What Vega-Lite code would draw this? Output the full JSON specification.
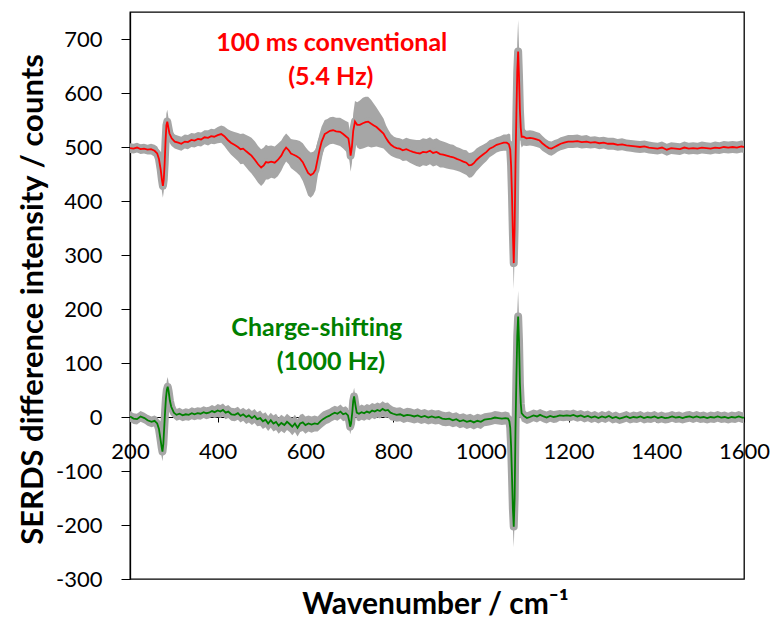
{
"$schema": "https://vega.github.io/schema/vega-lite/v6.json",
"width": 614, "height": 567,
"autosize": {"type": "none"},
"padding": {"left": 130, "top": 12, "right": 31, "bottom": 40},
"background": "white",
"config": {"view": {"stroke": "#000", "strokeWidth": 1.3}, "font": "Lato"},
"datasets": {
"notes": [
{"s": "conv", "x": 660, "y": 692, "t": "100 ms conventional"},
{"s": "conv", "x": 658, "y": 630, "t": "(5.4 Hz)"},
{"s": "cs", "x": 626, "y": 165, "t": "Charge-shifting"},
{"s": "cs", "x": 658, "y": 102, "t": "(1000 Hz)"}
],
"spec": [
{"s":"conv","x":200,"y":498,"e":9},{"s":"conv","x":208,"y":497,"e":9},{"s":"conv","x":216,"y":499,"e":9},{"s":"conv","x":224,"y":496,"e":9},{"s":"conv","x":232,"y":497,"e":9},{"s":"conv","x":240,"y":495,"e":9},{"s":"conv","x":248,"y":496,"e":10},{"s":"conv","x":256,"y":493,"e":11},{"s":"conv","x":262,"y":488,"e":13},{"s":"conv","x":266,"y":478,"e":16},{"s":"conv","x":270,"y":458,"e":20},{"s":"conv","x":273,"y":438,"e":22},{"s":"conv","x":275,"y":428,"e":22},{"s":"conv","x":277,"y":440,"e":22},{"s":"conv","x":279,"y":470,"e":22},{"s":"conv","x":281,"y":510,"e":22},{"s":"conv","x":283,"y":540,"e":22},{"s":"conv","x":285,"y":547,"e":22},{"s":"conv","x":287,"y":538,"e":20},{"s":"conv","x":290,"y":525,"e":17},{"s":"conv","x":295,"y":516,"e":14},{"s":"conv","x":302,"y":510,"e":13},{"s":"conv","x":310,"y":508,"e":13},{"s":"conv","x":317,"y":506,"e":13},{"s":"conv","x":325,"y":510,"e":13},{"s":"conv","x":332,"y":509,"e":13},{"s":"conv","x":340,"y":513,"e":13},{"s":"conv","x":347,"y":512,"e":13},{"s":"conv","x":355,"y":515,"e":13},{"s":"conv","x":362,"y":514,"e":13},{"s":"conv","x":370,"y":518,"e":13},{"s":"conv","x":378,"y":517,"e":14},{"s":"conv","x":385,"y":520,"e":14},{"s":"conv","x":392,"y":519,"e":14},{"s":"conv","x":400,"y":522,"e":15},{"s":"conv","x":408,"y":524,"e":16},{"s":"conv","x":415,"y":520,"e":18},{"s":"conv","x":423,"y":513,"e":20},{"s":"conv","x":430,"y":508,"e":22},{"s":"conv","x":438,"y":504,"e":24},{"s":"conv","x":446,"y":500,"e":26},{"s":"conv","x":452,"y":496,"e":28},{"s":"conv","x":458,"y":497,"e":28},{"s":"conv","x":465,"y":492,"e":30},{"s":"conv","x":471,"y":488,"e":32},{"s":"conv","x":477,"y":484,"e":33},{"s":"conv","x":485,"y":476,"e":34},{"s":"conv","x":492,"y":468,"e":34},{"s":"conv","x":499,"y":462,"e":34},{"s":"conv","x":505,"y":466,"e":33},{"s":"conv","x":510,"y":472,"e":32},{"s":"conv","x":515,"y":471,"e":31},{"s":"conv","x":522,"y":473,"e":30},{"s":"conv","x":530,"y":471,"e":30},{"s":"conv","x":537,"y":476,"e":30},{"s":"conv","x":545,"y":484,"e":28},{"s":"conv","x":550,"y":492,"e":27},{"s":"conv","x":556,"y":499,"e":26},{"s":"conv","x":562,"y":494,"e":26},{"s":"conv","x":567,"y":488,"e":27},{"s":"conv","x":572,"y":486,"e":28},{"s":"conv","x":580,"y":483,"e":30},{"s":"conv","x":587,"y":479,"e":32},{"s":"conv","x":594,"y":472,"e":35},{"s":"conv","x":600,"y":462,"e":38},{"s":"conv","x":606,"y":452,"e":42},{"s":"conv","x":612,"y":448,"e":42},{"s":"conv","x":618,"y":451,"e":40},{"s":"conv","x":623,"y":458,"e":38},{"s":"conv","x":628,"y":478,"e":32},{"s":"conv","x":632,"y":494,"e":30},{"s":"conv","x":637,"y":510,"e":28},{"s":"conv","x":644,"y":524,"e":26},{"s":"conv","x":650,"y":527,"e":25},{"s":"conv","x":656,"y":530,"e":25},{"s":"conv","x":663,"y":531,"e":25},{"s":"conv","x":670,"y":529,"e":25},{"s":"conv","x":679,"y":528,"e":26},{"s":"conv","x":686,"y":524,"e":27},{"s":"conv","x":692,"y":520,"e":28},{"s":"conv","x":698,"y":516,"e":30},{"s":"conv","x":701,"y":500,"e":30},{"s":"conv","x":703,"y":484,"e":30},{"s":"conv","x":706,"y":500,"e":30},{"s":"conv","x":709,"y":530,"e":32},{"s":"conv","x":713,"y":547,"e":38},{"s":"conv","x":718,"y":541,"e":42},{"s":"conv","x":724,"y":541,"e":45},{"s":"conv","x":731,"y":544,"e":47},{"s":"conv","x":737,"y":546,"e":47},{"s":"conv","x":743,"y":547,"e":46},{"s":"conv","x":750,"y":543,"e":44},{"s":"conv","x":756,"y":540,"e":40},{"s":"conv","x":762,"y":537,"e":36},{"s":"conv","x":770,"y":531,"e":32},{"s":"conv","x":778,"y":525,"e":28},{"s":"conv","x":784,"y":516,"e":24},{"s":"conv","x":789,"y":510,"e":22},{"s":"conv","x":795,"y":504,"e":20},{"s":"conv","x":802,"y":500,"e":19},{"s":"conv","x":808,"y":498,"e":19},{"s":"conv","x":815,"y":497,"e":19},{"s":"conv","x":822,"y":494,"e":20},{"s":"conv","x":830,"y":496,"e":21},{"s":"conv","x":838,"y":493,"e":22},{"s":"conv","x":845,"y":491,"e":23},{"s":"conv","x":853,"y":489,"e":24},{"s":"conv","x":861,"y":488,"e":25},{"s":"conv","x":868,"y":491,"e":25},{"s":"conv","x":876,"y":490,"e":25},{"s":"conv","x":884,"y":493,"e":25},{"s":"conv","x":891,"y":489,"e":25},{"s":"conv","x":899,"y":491,"e":25},{"s":"conv","x":907,"y":487,"e":25},{"s":"conv","x":914,"y":486,"e":24},{"s":"conv","x":922,"y":484,"e":24},{"s":"conv","x":930,"y":482,"e":23},{"s":"conv","x":937,"y":481,"e":23},{"s":"conv","x":945,"y":478,"e":22},{"s":"conv","x":952,"y":476,"e":22},{"s":"conv","x":960,"y":473,"e":22},{"s":"conv","x":967,"y":471,"e":23},{"s":"conv","x":973,"y":466,"e":23},{"s":"conv","x":979,"y":467,"e":23},{"s":"conv","x":984,"y":470,"e":22},{"s":"conv","x":990,"y":476,"e":21},{"s":"conv","x":997,"y":481,"e":20},{"s":"conv","x":1005,"y":486,"e":18},{"s":"conv","x":1013,"y":491,"e":17},{"s":"conv","x":1020,"y":497,"e":16},{"s":"conv","x":1028,"y":500,"e":15},{"s":"conv","x":1036,"y":504,"e":14},{"s":"conv","x":1044,"y":506,"e":14},{"s":"conv","x":1052,"y":508,"e":15},{"s":"conv","x":1059,"y":508,"e":15},{"s":"conv","x":1064,"y":505,"e":20},{"s":"conv","x":1067,"y":495,"e":28},{"s":"conv","x":1069,"y":465,"e":35},{"s":"conv","x":1071,"y":410,"e":40},{"s":"conv","x":1073,"y":340,"e":45},{"s":"conv","x":1075,"y":285,"e":48},{"s":"conv","x":1077,"y":350,"e":48},{"s":"conv","x":1079,"y":470,"e":50},{"s":"conv","x":1081,"y":560,"e":52},{"s":"conv","x":1083,"y":640,"e":55},{"s":"conv","x":1085,"y":677,"e":58},{"s":"conv","x":1087,"y":630,"e":55},{"s":"conv","x":1089,"y":569,"e":45},{"s":"conv","x":1091,"y":535,"e":30},{"s":"conv","x":1093,"y":519,"e":20},{"s":"conv","x":1097,"y":519,"e":16},{"s":"conv","x":1104,"y":516,"e":14},{"s":"conv","x":1112,"y":517,"e":14},{"s":"conv","x":1119,"y":516,"e":14},{"s":"conv","x":1127,"y":514,"e":14},{"s":"conv","x":1134,"y":512,"e":14},{"s":"conv","x":1140,"y":507,"e":14},{"s":"conv","x":1148,"y":502,"e":13},{"s":"conv","x":1155,"y":498,"e":13},{"s":"conv","x":1161,"y":497,"e":13},{"s":"conv","x":1168,"y":500,"e":13},{"s":"conv","x":1175,"y":503,"e":12},{"s":"conv","x":1182,"y":506,"e":12},{"s":"conv","x":1190,"y":508,"e":12},{"s":"conv","x":1199,"y":510,"e":12},{"s":"conv","x":1210,"y":510,"e":12},{"s":"conv","x":1220,"y":511,"e":12},{"s":"conv","x":1230,"y":509,"e":12},{"s":"conv","x":1241,"y":510,"e":12},{"s":"conv","x":1250,"y":508,"e":11},{"s":"conv","x":1260,"y":509,"e":11},{"s":"conv","x":1270,"y":507,"e":11},{"s":"conv","x":1280,"y":508,"e":11},{"s":"conv","x":1290,"y":506,"e":11},{"s":"conv","x":1302,"y":506,"e":11},{"s":"conv","x":1312,"y":504,"e":11},{"s":"conv","x":1322,"y":505,"e":11},{"s":"conv","x":1332,"y":503,"e":11},{"s":"conv","x":1342,"y":502,"e":11},{"s":"conv","x":1352,"y":501,"e":11},{"s":"conv","x":1363,"y":500,"e":11},{"s":"conv","x":1373,"y":501,"e":11},{"s":"conv","x":1383,"y":499,"e":11},{"s":"conv","x":1393,"y":498,"e":11},{"s":"conv","x":1403,"y":497,"e":11},{"s":"conv","x":1413,"y":499,"e":11},{"s":"conv","x":1424,"y":495,"e":11},{"s":"conv","x":1434,"y":498,"e":11},{"s":"conv","x":1444,"y":497,"e":11},{"s":"conv","x":1454,"y":496,"e":11},{"s":"conv","x":1464,"y":499,"e":11},{"s":"conv","x":1474,"y":497,"e":11},{"s":"conv","x":1484,"y":498,"e":11},{"s":"conv","x":1494,"y":497,"e":11},{"s":"conv","x":1504,"y":499,"e":11},{"s":"conv","x":1514,"y":498,"e":11},{"s":"conv","x":1524,"y":497,"e":11},{"s":"conv","x":1534,"y":499,"e":11},{"s":"conv","x":1544,"y":498,"e":11},{"s":"conv","x":1554,"y":500,"e":11},{"s":"conv","x":1564,"y":499,"e":11},{"s":"conv","x":1574,"y":500,"e":11},{"s":"conv","x":1584,"y":499,"e":11},{"s":"conv","x":1594,"y":501,"e":11},{"s":"conv","x":1600,"y":500,"e":11},
{"s":"cs","x":200,"y":1,"e":10},{"s":"cs","x":208,"y":-3,"e":10},{"s":"cs","x":216,"y":-4,"e":10},{"s":"cs","x":224,"y":1,"e":10},{"s":"cs","x":233,"y":-2,"e":10},{"s":"cs","x":240,"y":-6,"e":10},{"s":"cs","x":249,"y":-9,"e":10},{"s":"cs","x":256,"y":-7,"e":10},{"s":"cs","x":262,"y":-12,"e":12},{"s":"cs","x":266,"y":-22,"e":14},{"s":"cs","x":269,"y":-38,"e":16},{"s":"cs","x":272,"y":-55,"e":18},{"s":"cs","x":274,"y":-64,"e":18},{"s":"cs","x":276,"y":-50,"e":18},{"s":"cs","x":278,"y":-20,"e":18},{"s":"cs","x":280,"y":10,"e":18},{"s":"cs","x":282,"y":35,"e":18},{"s":"cs","x":284,"y":50,"e":18},{"s":"cs","x":286,"y":56,"e":18},{"s":"cs","x":288,"y":48,"e":16},{"s":"cs","x":291,"y":30,"e":14},{"s":"cs","x":294,"y":19,"e":12},{"s":"cs","x":300,"y":8,"e":11},{"s":"cs","x":306,"y":4,"e":11},{"s":"cs","x":313,"y":6,"e":11},{"s":"cs","x":320,"y":3,"e":11},{"s":"cs","x":327,"y":5,"e":11},{"s":"cs","x":334,"y":4,"e":11},{"s":"cs","x":341,"y":7,"e":11},{"s":"cs","x":347,"y":5,"e":11},{"s":"cs","x":354,"y":7,"e":11},{"s":"cs","x":361,"y":6,"e":11},{"s":"cs","x":368,"y":9,"e":11},{"s":"cs","x":374,"y":7,"e":11},{"s":"cs","x":380,"y":8,"e":11},{"s":"cs","x":387,"y":11,"e":11},{"s":"cs","x":393,"y":9,"e":11},{"s":"cs","x":400,"y":12,"e":12},{"s":"cs","x":406,"y":10,"e":12},{"s":"cs","x":412,"y":13,"e":12},{"s":"cs","x":418,"y":8,"e":12},{"s":"cs","x":424,"y":10,"e":12},{"s":"cs","x":431,"y":5,"e":12},{"s":"cs","x":439,"y":4,"e":12},{"s":"cs","x":446,"y":7,"e":12},{"s":"cs","x":452,"y":2,"e":12},{"s":"cs","x":458,"y":5,"e":12},{"s":"cs","x":465,"y":0,"e":13},{"s":"cs","x":471,"y":3,"e":13},{"s":"cs","x":478,"y":-2,"e":13},{"s":"cs","x":484,"y":2,"e":13},{"s":"cs","x":490,"y":-4,"e":13},{"s":"cs","x":497,"y":-2,"e":14},{"s":"cs","x":503,"y":-8,"e":14},{"s":"cs","x":509,"y":-5,"e":14},{"s":"cs","x":515,"y":-12,"e":14},{"s":"cs","x":521,"y":-6,"e":14},{"s":"cs","x":527,"y":-12,"e":15},{"s":"cs","x":533,"y":-9,"e":15},{"s":"cs","x":539,"y":-16,"e":15},{"s":"cs","x":545,"y":-11,"e":15},{"s":"cs","x":552,"y":-15,"e":15},{"s":"cs","x":558,"y":-9,"e":15},{"s":"cs","x":564,"y":-13,"e":15},{"s":"cs","x":570,"y":-18,"e":16},{"s":"cs","x":576,"y":-12,"e":16},{"s":"cs","x":582,"y":-20,"e":16},{"s":"cs","x":588,"y":-12,"e":16},{"s":"cs","x":594,"y":-10,"e":16},{"s":"cs","x":600,"y":-15,"e":16},{"s":"cs","x":607,"y":-12,"e":15},{"s":"cs","x":614,"y":-14,"e":15},{"s":"cs","x":621,"y":-12,"e":15},{"s":"cs","x":628,"y":-13,"e":14},{"s":"cs","x":634,"y":-8,"e":14},{"s":"cs","x":640,"y":-4,"e":14},{"s":"cs","x":648,"y":0,"e":13},{"s":"cs","x":654,"y":2,"e":13},{"s":"cs","x":660,"y":5,"e":13},{"s":"cs","x":667,"y":8,"e":13},{"s":"cs","x":673,"y":6,"e":13},{"s":"cs","x":680,"y":10,"e":13},{"s":"cs","x":686,"y":5,"e":13},{"s":"cs","x":692,"y":7,"e":13},{"s":"cs","x":697,"y":3,"e":13},{"s":"cs","x":700,"y":-8,"e":14},{"s":"cs","x":702,"y":-18,"e":14},{"s":"cs","x":704,"y":-12,"e":14},{"s":"cs","x":707,"y":10,"e":15},{"s":"cs","x":709,"y":30,"e":16},{"s":"cs","x":711,"y":38,"e":16},{"s":"cs","x":714,"y":22,"e":15},{"s":"cs","x":717,"y":8,"e":14},{"s":"cs","x":722,"y":6,"e":14},{"s":"cs","x":728,"y":9,"e":14},{"s":"cs","x":734,"y":7,"e":14},{"s":"cs","x":740,"y":10,"e":14},{"s":"cs","x":746,"y":8,"e":14},{"s":"cs","x":752,"y":12,"e":14},{"s":"cs","x":758,"y":10,"e":14},{"s":"cs","x":764,"y":13,"e":14},{"s":"cs","x":770,"y":11,"e":14},{"s":"cs","x":776,"y":15,"e":14},{"s":"cs","x":782,"y":12,"e":14},{"s":"cs","x":788,"y":13,"e":14},{"s":"cs","x":794,"y":8,"e":14},{"s":"cs","x":800,"y":6,"e":13},{"s":"cs","x":808,"y":4,"e":13},{"s":"cs","x":816,"y":5,"e":13},{"s":"cs","x":824,"y":2,"e":13},{"s":"cs","x":832,"y":4,"e":13},{"s":"cs","x":840,"y":3,"e":13},{"s":"cs","x":848,"y":1,"e":13},{"s":"cs","x":856,"y":3,"e":13},{"s":"cs","x":864,"y":0,"e":13},{"s":"cs","x":872,"y":2,"e":13},{"s":"cs","x":880,"y":-1,"e":13},{"s":"cs","x":888,"y":1,"e":13},{"s":"cs","x":896,"y":-1,"e":13},{"s":"cs","x":904,"y":0,"e":13},{"s":"cs","x":912,"y":-3,"e":13},{"s":"cs","x":920,"y":-4,"e":13},{"s":"cs","x":928,"y":-3,"e":13},{"s":"cs","x":936,"y":-6,"e":13},{"s":"cs","x":944,"y":-4,"e":13},{"s":"cs","x":952,"y":-8,"e":13},{"s":"cs","x":960,"y":-6,"e":13},{"s":"cs","x":968,"y":-9,"e":13},{"s":"cs","x":976,"y":-7,"e":13},{"s":"cs","x":984,"y":-10,"e":13},{"s":"cs","x":992,"y":-7,"e":13},{"s":"cs","x":1000,"y":-9,"e":13},{"s":"cs","x":1008,"y":-5,"e":12},{"s":"cs","x":1016,"y":-4,"e":12},{"s":"cs","x":1024,"y":-3,"e":12},{"s":"cs","x":1032,"y":-1,"e":12},{"s":"cs","x":1040,"y":-2,"e":12},{"s":"cs","x":1048,"y":-3,"e":12},{"s":"cs","x":1056,"y":-2,"e":12},{"s":"cs","x":1062,"y":-3,"e":12},{"s":"cs","x":1065,"y":-8,"e":16},{"s":"cs","x":1067,"y":-20,"e":20},{"s":"cs","x":1069,"y":-55,"e":26},{"s":"cs","x":1071,"y":-110,"e":32},{"s":"cs","x":1073,"y":-170,"e":36},{"s":"cs","x":1075,"y":-203,"e":38},{"s":"cs","x":1077,"y":-150,"e":40},{"s":"cs","x":1079,"y":-20,"e":42},{"s":"cs","x":1081,"y":70,"e":44},{"s":"cs","x":1083,"y":150,"e":46},{"s":"cs","x":1085,"y":186,"e":48},{"s":"cs","x":1087,"y":140,"e":45},{"s":"cs","x":1089,"y":63,"e":38},{"s":"cs","x":1091,"y":25,"e":25},{"s":"cs","x":1093,"y":7,"e":15},{"s":"cs","x":1098,"y":2,"e":12},{"s":"cs","x":1105,"y":-2,"e":11},{"s":"cs","x":1112,"y":0,"e":11},{"s":"cs","x":1120,"y":3,"e":11},{"s":"cs","x":1128,"y":1,"e":11},{"s":"cs","x":1135,"y":4,"e":11},{"s":"cs","x":1143,"y":1,"e":11},{"s":"cs","x":1150,"y":-1,"e":11},{"s":"cs","x":1158,"y":2,"e":11},{"s":"cs","x":1166,"y":0,"e":11},{"s":"cs","x":1173,"y":1,"e":11},{"s":"cs","x":1180,"y":3,"e":10},{"s":"cs","x":1188,"y":2,"e":10},{"s":"cs","x":1196,"y":3,"e":10},{"s":"cs","x":1204,"y":2,"e":10},{"s":"cs","x":1211,"y":4,"e":10},{"s":"cs","x":1220,"y":1,"e":10},{"s":"cs","x":1228,"y":3,"e":10},{"s":"cs","x":1236,"y":0,"e":10},{"s":"cs","x":1244,"y":2,"e":10},{"s":"cs","x":1252,"y":-1,"e":10},{"s":"cs","x":1260,"y":1,"e":10},{"s":"cs","x":1268,"y":-2,"e":10},{"s":"cs","x":1276,"y":1,"e":10},{"s":"cs","x":1284,"y":-1,"e":10},{"s":"cs","x":1292,"y":2,"e":10},{"s":"cs","x":1300,"y":-2,"e":10},{"s":"cs","x":1308,"y":0,"e":10},{"s":"cs","x":1316,"y":-3,"e":10},{"s":"cs","x":1324,"y":-1,"e":10},{"s":"cs","x":1332,"y":1,"e":10},{"s":"cs","x":1340,"y":-2,"e":10},{"s":"cs","x":1348,"y":0,"e":10},{"s":"cs","x":1356,"y":-1,"e":10},{"s":"cs","x":1364,"y":1,"e":10},{"s":"cs","x":1372,"y":-2,"e":10},{"s":"cs","x":1380,"y":0,"e":10},{"s":"cs","x":1388,"y":-1,"e":10},{"s":"cs","x":1396,"y":1,"e":10},{"s":"cs","x":1404,"y":-2,"e":10},{"s":"cs","x":1412,"y":0,"e":10},{"s":"cs","x":1420,"y":-2,"e":10},{"s":"cs","x":1428,"y":-1,"e":10},{"s":"cs","x":1436,"y":1,"e":10},{"s":"cs","x":1444,"y":-1,"e":10},{"s":"cs","x":1452,"y":0,"e":10},{"s":"cs","x":1460,"y":-2,"e":10},{"s":"cs","x":1468,"y":0,"e":10},{"s":"cs","x":1476,"y":1,"e":10},{"s":"cs","x":1484,"y":-1,"e":10},{"s":"cs","x":1492,"y":1,"e":10},{"s":"cs","x":1500,"y":-1,"e":10},{"s":"cs","x":1508,"y":0,"e":10},{"s":"cs","x":1516,"y":-2,"e":10},{"s":"cs","x":1524,"y":0,"e":10},{"s":"cs","x":1532,"y":-1,"e":10},{"s":"cs","x":1540,"y":1,"e":10},{"s":"cs","x":1548,"y":-1,"e":10},{"s":"cs","x":1556,"y":0,"e":10},{"s":"cs","x":1564,"y":-2,"e":10},{"s":"cs","x":1572,"y":0,"e":10},{"s":"cs","x":1580,"y":-1,"e":10},{"s":"cs","x":1588,"y":1,"e":10},{"s":"cs","x":1596,"y":-1,"e":10},{"s":"cs","x":1600,"y":-1,"e":10}
]
},
"layer": [
{
"data": {"name": "spec"},
"mark": {"type": "errorband", "band": {"color": "#a6a6a6", "opacity": 1}, "clip": true},
"encoding": {
"x": {"field": "x", "type": "quantitative", "scale": {"domain": [200, 1600], "nice": false},
 "axis": {"orient": "bottom", "offset": -162, "values": [200,400,600,800,1000,1200,1400,1600], "format": "d",
  "tickSize": 5, "tickColor": "#000", "domainColor": "#000", "domainWidth": 1, "grid": false,
  "labelFontSize": 22, "labelFont": "Lato", "labelColor": "#000", "labelPadding": 19, "labelFlush": false, "labelOverlap": false, "labelBound": false,
  "title": "Wavenumber / cm⁻¹", "titleFont": "Lato", "titleFontSize": 30, "titleFontWeight": "bold", "titleColor": "#000",
  "titleX": 305, "titleY": 196, "titleAlign": "center", "titleBaseline": "alphabetic", "titleAnchor": null}},
"y": {"field": "y", "type": "quantitative", "scale": {"domain": [-300, 750], "nice": false},
 "axis": {"values": [-300,-200,-100,0,100,200,300,400,500,600,700],
  "labelExpr": "datum.value < 0 ? '-' + abs(datum.value) : '' + datum.value",
  "tickSize": 9, "tickColor": "#000", "domainColor": "#000", "domainWidth": 1.3, "grid": false,
  "labelFontSize": 22, "labelFont": "Lato", "labelColor": "#000", "labelPadding": 19, "labelFlush": false, "labelOverlap": false,
  "title": "SERDS difference intensity / counts", "titleFont": "Lato", "titleFontSize": 31, "titleFontWeight": "bold", "titleColor": "#000",
  "titleX": -97, "titleY": 287, "titleAngle": 270, "titleAlign": "center", "titleBaseline": "middle", "titleAnchor": null}},
"yError": {"field": "e"},
"detail": {"field": "s"}
}
},
{
"data": {"name": "spec"},
"mark": {"type": "line", "color": "#a6a6a6", "strokeWidth": 8, "strokeCap": "round", "strokeJoin": "round", "clip": true},
"encoding": {
"x": {"field": "x", "type": "quantitative"},
"y": {"field": "y", "type": "quantitative"},
"detail": {"field": "s"}
}
},
{
"data": {"name": "spec"},
"mark": {"type": "line", "strokeWidth": 1.8, "clip": true},
"encoding": {
"x": {"field": "x", "type": "quantitative"},
"y": {"field": "y", "type": "quantitative"},
"color": {"field": "s", "type": "nominal", "scale": {"domain": ["conv", "cs"], "range": ["#ff0000", "#008000"]}, "legend": null}
}
},
{
"data": {"name": "notes"},
"mark": {"type": "text", "font": "Lato", "fontSize": 25, "fontWeight": "bold", "align": "center", "baseline": "middle"},
"encoding": {
"x": {"field": "x", "type": "quantitative"},
"y": {"field": "y", "type": "quantitative"},
"text": {"field": "t"},
"color": {"field": "s", "type": "nominal", "scale": {"domain": ["conv", "cs"], "range": ["#ff0000", "#008000"]}, "legend": null}
}
}
]
}
